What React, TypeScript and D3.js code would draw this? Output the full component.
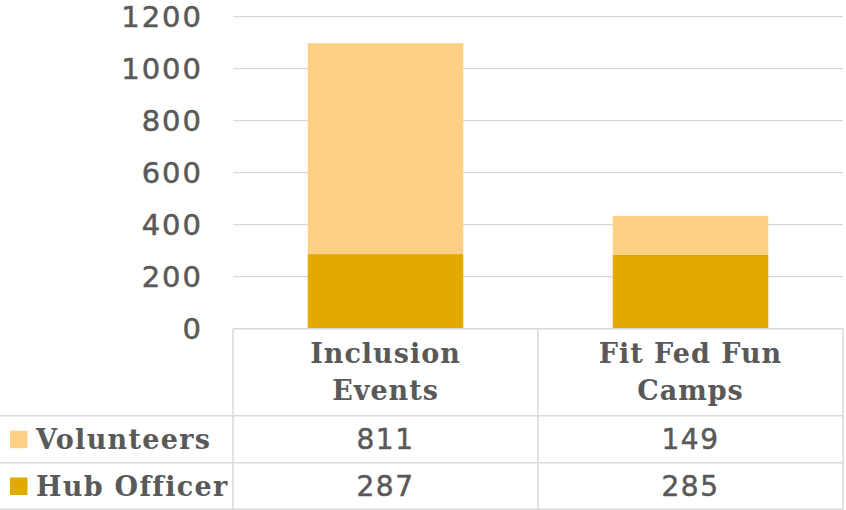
import React from "react";
import * as d3 from "d3";

const categories = ["Inclusion Events", "Fit Fed Fun Camps"];
const categoryLines = [["Inclusion", "Events"], ["Fit Fed Fun", "Camps"]];
const seriesNames = ["Volunteers", "Hub Officer"];
const hubOfficer = [287, 285];
const volunteers = [811, 149];
const yTicks = [0, 200, 400, 600, 800, 1000, 1200];
const colors: Record<string, string> = { "Volunteers": "#FED086", "Hub Officer": "#E2AA00" };

const W = 846;
const H = 510;
const plotLeft = 233;
const plotRight = 843;
const plotTop = 16.7;
const plotBottom = 328.7;
const grid = "#D9D9D9";
const txt = "#595959";
const numFont = "'DejaVu Sans', sans-serif";
const labFont = "'DejaVu Serif', serif";

export default function App() {
  const x = d3.scaleBand<string>().domain(categories).range([plotLeft, plotRight]).paddingInner(0.49).paddingOuter(0.245);
  const y = d3.scaleLinear().domain([0, 1200]).range([plotBottom, plotTop]);
  const rows = categories.map((c, i) => ({ cat: c, "Hub Officer": hubOfficer[i], "Volunteers": volunteers[i] }));
  const stack = d3.stack<any>().keys(["Hub Officer", "Volunteers"]);
  const stacked = stack(rows);
  const colW = (plotRight - plotLeft) / categories.length;
  const rowTops = [plotBottom, 415.7, 462.7, 509.3];
  const tableRows = [
    { name: seriesNames[0], vals: volunteers },
    { name: seriesNames[1], vals: hubOfficer },
  ];
  return (
    <svg width={W} height={H} style={{ position: "absolute", left: 0, top: 0 }}>
      <rect width={W} height={H} fill="#fff" />
      {yTicks.map((t) => (
        <g key={t}>
          {t > 0 && <line x1={plotLeft} x2={plotRight} y1={y(t)} y2={y(t)} stroke={grid} strokeWidth={1.3} />}
          <text x={203} y={y(t)} dy="0.36em" textAnchor="end" fontFamily={numFont} fontSize={29} fill={txt} stroke={txt} strokeWidth={0.5} letterSpacing={2}>
            {t}
          </text>
        </g>
      ))}
      {stacked.map((s) =>
        s.map((d, i) => (
          <rect
            key={s.key + i}
            x={x(categories[i])!}
            width={x.bandwidth()}
            y={y(d[1])}
            height={y(d[0]) - y(d[1])}
            fill={colors[s.key]}
          />
        ))
      )}
      <g stroke={grid} strokeWidth={1.5}>
        <line x1={plotLeft} x2={plotRight} y1={rowTops[0]} y2={rowTops[0]} />
        {rowTops.slice(1).map((ry, i) => (
          <line key={i} x1={0} x2={plotRight} y1={ry} y2={ry} />
        ))}
        {[0, 1, 2].map((k) => (
          <line key={k} x1={plotLeft + k * colW} x2={plotLeft + k * colW} y1={rowTops[0]} y2={rowTops[3]} />
        ))}
      </g>
      {categoryLines.map((lines, i) => (
        <text key={i} textAnchor="middle" fontFamily={labFont} fontWeight="bold" fontSize={27} fill={txt} letterSpacing={1}>
          {lines.map((l, j) => (
            <tspan key={j} x={plotLeft + colW * (i + 0.5)} y={363 + j * 37}>
              {l}
            </tspan>
          ))}
        </text>
      ))}
      {tableRows.map((r, ri) => {
        const cy = (rowTops[ri + 1] + rowTops[ri + 2]) / 2;
        return (
          <g key={r.name}>
            <rect x={10} y={cy - 8.5} width={17.5} height={17.5} fill={colors[r.name]} />
            <text x={36} y={cy} dy="0.36em" fontFamily={labFont} fontWeight="bold" fontSize={27} fill={txt} letterSpacing={1.3}>
              {r.name}
            </text>
            {r.vals.map((v, i) => (
              <text key={i} x={plotLeft + colW * (i + 0.5)} y={cy} dy="0.36em" textAnchor="middle" fontFamily={numFont} fontSize={28} fill={txt} stroke={txt} strokeWidth={0.5} letterSpacing={1.5}>
                {v}
              </text>
            ))}
          </g>
        );
      })}
    </svg>
  );
}
